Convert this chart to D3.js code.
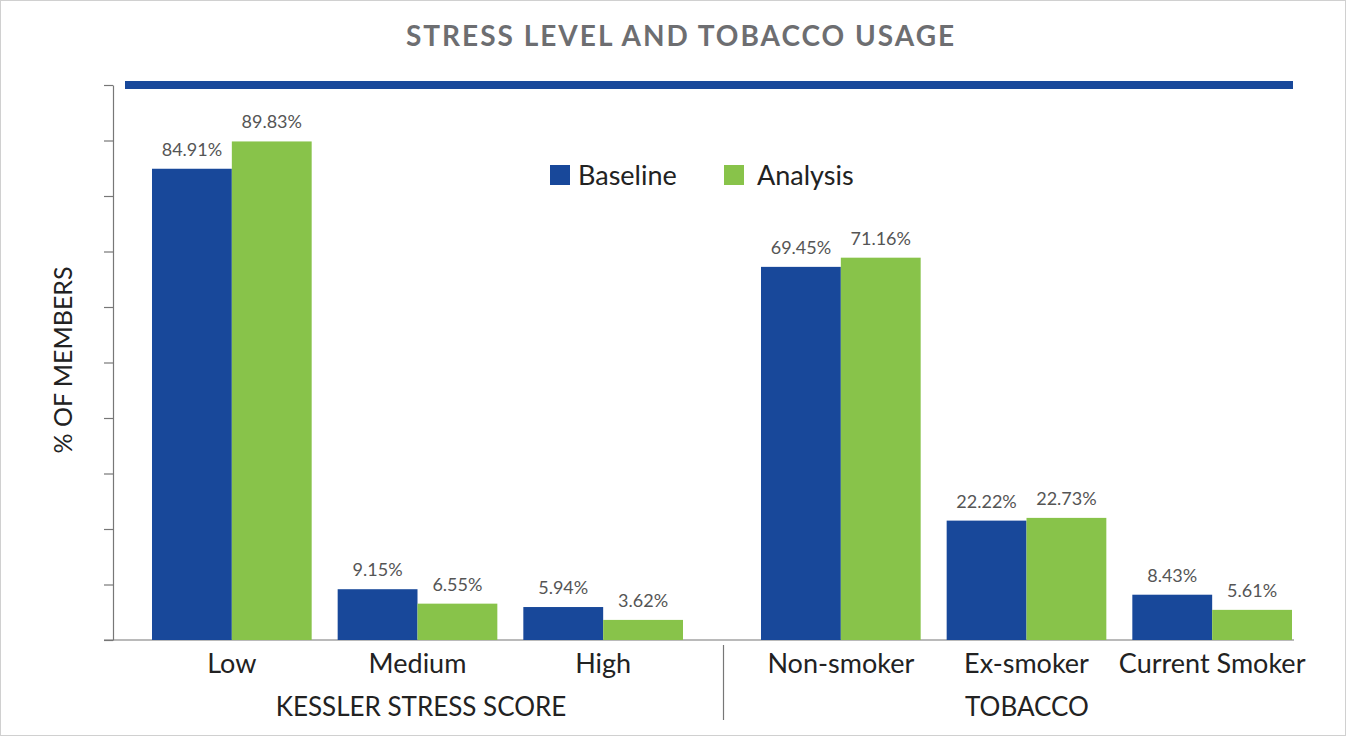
<!DOCTYPE html>
<html><head><meta charset="utf-8">
<script src="https://cdn.jsdelivr.net/npm/d3@7"></script>
<style>body{margin:0;background:#fff}svg{display:block}</style>
</head><body>
<svg id="c" width="1348" height="736"></svg>
<script>
const title = "STRESS LEVEL AND TOBACCO USAGE";
const groups = ["KESSLER STRESS SCORE", "TOBACCO"];
const stressCats = ["Low", "Medium", "High"];
const tobaccoCats = ["Non-smoker", "Ex-smoker", "Current Smoker"];
const seriesNames = ["Baseline", "Analysis"];
const stressBaseline = [84.91, 9.15, 5.94];
const stressAnalysis = [89.83, 6.55, 3.62];
const tobaccoBaseline = [69.45, 22.22, 8.43];
const tobaccoAnalysis = [71.16, 22.73, 5.61];
const yTicks = [0,10,20,30,40,50,60,70,80,90,100];
const colors = ["#18489a", "#88c34a"];
const FONT = "'Lato','Source Sans Pro','Open Sans',sans-serif";

const svg = d3.select("#c");
svg.append("rect").attr("x",0.5).attr("y",0.5).attr("width",1345).attr("height",735)
  .attr("fill","#fff").attr("stroke","#d0d0d0");

svg.append("text").attr("x",681).attr("y",46).attr("text-anchor","middle")
  .attr("font-family",FONT).attr("font-weight","bold").attr("font-size",28)
  .attr("letter-spacing",2).attr("fill","#6d6e71").text(title);

svg.append("rect").attr("x",125).attr("y",81).attr("width",1168).attr("height",8).attr("fill",colors[0]);

const y = d3.scaleLinear().domain([0,100]).range([640,85]);
const axisY = svg.append("g").attr("transform","translate(113,0)")
  .call(d3.axisLeft(y).tickValues(yTicks).tickFormat("").tickSize(9).tickSizeOuter(0));
axisY.selectAll("path,line").attr("stroke","#777").attr("stroke-width",1.2);

svg.append("line").attr("x1",104).attr("x2",1294).attr("y1",640).attr("y2",640)
  .attr("stroke","#777").attr("stroke-width",1.2);
svg.append("line").attr("x1",723.5).attr("x2",723.5).attr("y1",645).attr("y2",720)
  .attr("stroke","#777").attr("stroke-width",1.2);

svg.append("text").attr("transform","translate(72,360) rotate(-90)").attr("text-anchor","middle")
  .attr("font-family",FONT).attr("font-size",25).attr("fill","#222").text("% OF MEMBERS");

const groupDefs = [
  {cats: stressCats, vals:[stressBaseline, stressAnalysis], range:[139,696], label:groups[0], lx:421,
   ys: y},
  {cats: tobaccoCats, vals:[tobaccoBaseline, tobaccoAnalysis], range:[748,1305], label:groups[1], lx:1027,
   ys: d3.scaleLinear().domain([0,103.3]).range([640,85])}
];

groupDefs.forEach(g => {
  const ys = g.ys;
  const x0 = d3.scaleBand().domain(g.cats).range(g.range).paddingInner(0.14).paddingOuter(0.07);
  const x1 = d3.scaleBand().domain(seriesNames).range([0, x0.bandwidth()]);
  g.cats.forEach((c,i) => {
    seriesNames.forEach((s,j) => {
      const v = g.vals[j][i];
      const bx = x0(c) + x1(s);
      svg.append("rect").attr("x",bx).attr("y",ys(v)).attr("width",x1.bandwidth()).attr("height",ys(0)-ys(v))
        .attr("fill",colors[j]);
      svg.append("text").attr("x",bx + x1.bandwidth()/2).attr("y",ys(v)-13).attr("text-anchor","middle")
        .attr("font-family",FONT).attr("font-size",18).attr("fill","#555").text(v.toFixed(2)+"%");
    });
    svg.append("text").attr("x",x0(c)+x0.bandwidth()/2).attr("y",673).attr("text-anchor","middle")
      .attr("font-family",FONT).attr("font-size",27).attr("fill","#222").text(c);
  });
  svg.append("text").attr("x",g.lx).attr("y",716).attr("text-anchor","middle")
    .attr("font-family",FONT).attr("font-size",26).attr("fill","#222").text(g.label);
});

const leg = [{x:550, tx:578},{x:724, tx:757}];
seriesNames.forEach((s,i) => {
  svg.append("rect").attr("x",leg[i].x).attr("y",165).attr("width",20).attr("height",20).attr("fill",colors[i]);
  svg.append("text").attr("x",leg[i].tx).attr("y",185).attr("font-family",FONT).attr("font-size",27)
    .attr("fill","#222").text(s);
});
</script>
</body></html>
